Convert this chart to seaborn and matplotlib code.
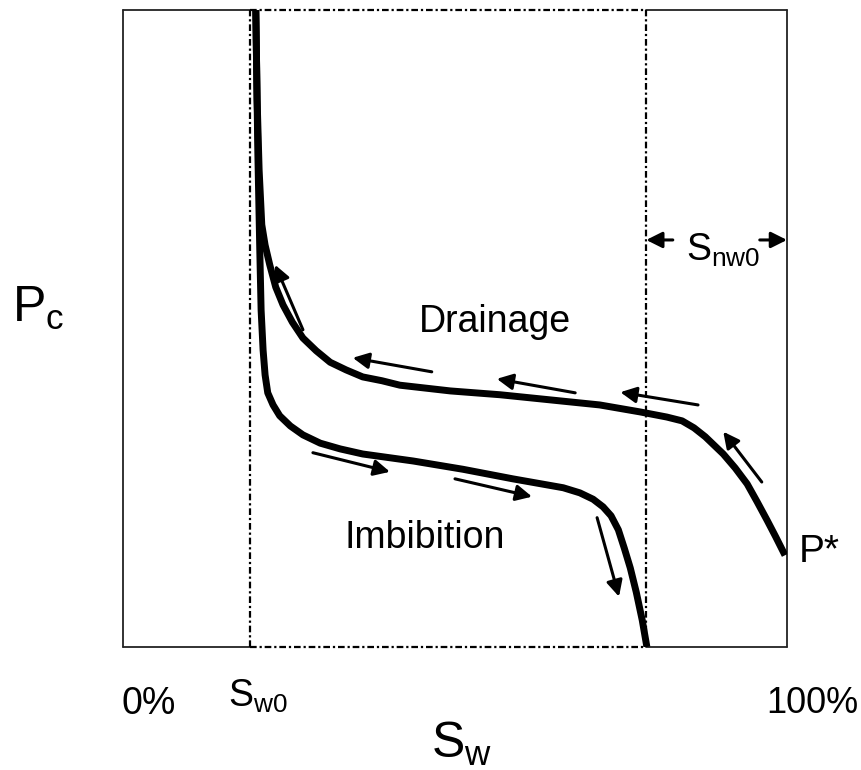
import pandas as pd
import matplotlib.pyplot as plt
import seaborn as sns

# saturation (%) and capillary pressure (arbitrary 0-100)
drain_sw = [20.0, 20.2, 20.5, 20.9, 21.4, 22.1, 23.0, 24.1, 25.5, 27.1, 29.1,
            31.2, 33.6, 36.1, 39.0, 41.7, 49.3, 56.8, 64.3, 71.8, 77.9, 81.9,
            84.2, 86.0, 87.7, 89.0, 90.4, 92.2, 94.0, 95.5, 97.0, 98.3, 99.7]
drain_pc = [100, 85.9, 74.9, 66.3, 63.1, 60.0, 56.5, 53.7, 51.0, 48.5, 46.5,
            44.7, 43.5, 42.4, 41.8, 41.1, 40.2, 39.6, 38.8, 38.0, 36.9, 36.1,
            35.5, 34.4, 33.0, 31.7, 30.3, 28.1, 25.6, 22.8, 19.9, 17.3, 14.4]
imb_sw = [20.0, 20.3, 20.6, 20.8, 21.1, 21.4, 21.8, 22.6, 23.6, 25.2, 27.1,
          29.7, 32.7, 36.1, 43.7, 51.2, 58.7, 66.3, 68.8, 70.8, 72.3, 73.5,
          74.6, 75.5, 76.4, 77.3, 78.2, 78.9]
imb_pc = [100, 78.0, 62.3, 52.9, 46.6, 42.7, 39.9, 38.0, 36.3, 34.7, 33.3,
          32.0, 31.1, 30.3, 29.2, 27.9, 26.4, 25.0, 24.2, 23.2, 22.0, 20.6,
          18.4, 15.5, 12.4, 8.6, 4.2, 0]

sw0 = 19.1       # irreducible water saturation
sw_max = 78.8    # 100% - Snw0

# arrows: (x_tail, y_tail, x_head, y_head)
drain_arrows = [(96.2, 25.9, 90.4, 33.8), (86.6, 38.0, 74.9, 40.0),
                (68.1, 39.9, 56.3, 42.1), (46.5, 43.2, 34.6, 45.4),
                (27.1, 49.8, 22.9, 60.0)]
imb_arrows = [(28.6, 30.5, 40.2, 27.5), (50.0, 26.4, 61.6, 23.6),
              (71.4, 20.3, 74.7, 7.9)]

sns.set_style('white')
plt.rcParams['font.family'] = ['Liberation Sans', 'DejaVu Sans']
plt.rcParams['mathtext.fontset'] = 'custom'
plt.rcParams['mathtext.rm'] = 'Liberation Sans'
plt.rcParams['mathtext.default'] = 'regular'
plt.rcParams['text.color'] = 'black'

fig = plt.figure(figsize=(8.61, 7.7), dpi=100)
ax = fig.add_axes([123 / 861, 1 - 647 / 770, 664 / 861, 637 / 770])
ax.set_xlim(0, 100)
ax.set_ylim(0, 100)
for s in ax.spines.values():
    s.set_visible(False)
ax.set_xticks([])
ax.set_yticks([])

# outer frame (solid where not covered by dash-dot box)
box = dict(color='#222222', lw=1.3, clip_on=False)
ax.plot([0, 0], [0, 100], **box)
ax.plot([100, 100], [0, 100], **box)
ax.plot([0, sw0], [100, 100], **box)
ax.plot([sw_max, 100], [100, 100], **box)
ax.plot([0, sw0], [0, 0], **box)
ax.plot([sw_max, 100], [0, 0], **box)

dd = dict(color='black', lw=1.6, ls=(0, (3, 1.3, 1, 1.3)), clip_on=False)
ax.plot([sw0, sw0], [0, 100], **dd)
ax.plot([sw_max, sw_max], [0, 100], **dd)
ax.plot([sw0, sw_max], [100, 100], **dd)
ax.plot([sw0, sw_max], [0, 0], **dd)

df_d = pd.DataFrame({'Sw': drain_sw, 'Pc': drain_pc})
df_i = pd.DataFrame({'Sw': imb_sw, 'Pc': imb_pc})
sns.lineplot(data=df_d, x='Sw', y='Pc', sort=False, estimator=None,
             color='black', lw=5, ax=ax, solid_joinstyle='round', solid_capstyle='butt')
sns.lineplot(data=df_i, x='Sw', y='Pc', sort=False, estimator=None,
             color='black', lw=5, ax=ax, solid_joinstyle='round', solid_capstyle='butt')
ax.set_xlabel('')
ax.set_ylabel('')

arr = dict(arrowstyle='-|>', color='black', lw=2.2, mutation_scale=24,
           shrinkA=0, shrinkB=0)
for x0, y0, x1, y1 in drain_arrows + imb_arrows:
    ax.annotate('', xy=(x1, y1), xytext=(x0, y0), arrowprops=arr)

# Snw0 dimension arrows
ax.annotate('', xy=(sw_max, 63.9), xytext=(82.8, 63.9), arrowprops=arr,
            annotation_clip=False)
ax.annotate('', xy=(100, 63.9), xytext=(95.9, 63.9), arrowprops=arr,
            annotation_clip=False)

ax.text(56.0, 51.0, 'Drainage', fontsize=27, ha='center', va='center')
ax.text(45.5, 17.1, 'Imbibition', fontsize=27, ha='center', va='center')
ax.text(101.8, 14.9, 'P*', fontsize=28, ha='left', va='center', clip_on=False)
ax.text(90.4, 62.2, '$S_{nw0}$', fontsize=27, ha='center', va='center', clip_on=False)
ax.text(3.8, -8.9, '0%', fontsize=27, ha='center', va='center', clip_on=False)
ax.text(20.3, -7.7, '$S_{w0}$', fontsize=27, ha='center', va='center', clip_on=False)
ax.text(103.8, -8.9, '100%', fontsize=26, ha='center', va='center', clip_on=False)
ax.text(51.0, -15.2, '$S_w$', fontsize=36, ha='center', va='center', clip_on=False)
ax.text(-12.8, 53.1, '$P_c$', fontsize=36, ha='center', va='center', clip_on=False)

fig.savefig('out.png', dpi=100)
